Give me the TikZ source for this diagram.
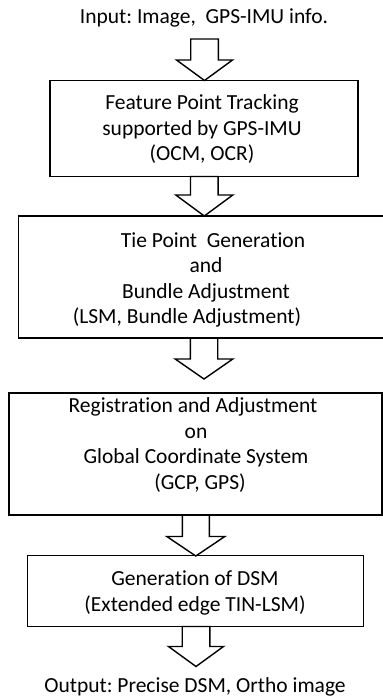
\documentclass[tikz,border=0pt]{standalone}
\usepackage{fontspec}
\setmainfont[Ligatures=NoCommon]{Carlito}
\frenchspacing
\begin{document}
\begin{tikzpicture}[x=1pt,y=-1pt,
  every node/.style={font=\fontsize{21.5}{25.5}\selectfont, text=black},
  box/.style={draw=black, line width=1.6pt, inner sep=0pt, fill=none},
  lines/.style={align=center, inner sep=0pt},
  arrowline/.style={draw=black, line width=1.4pt, fill=white, line join=miter}]
\clip (0,0) rectangle (383,697);
\fill[white] (0,0) rectangle (383,697);

% block arrow: centre x, top y, neck y, tip y, shaft half width, head half width
\newcommand\blockarrow[6]{%
  \draw[arrowline] (#1-#5,#2) -- (#1-#5,#3) -- (#1-#6,#3) -- (#1,#4)
    -- (#1+#6,#3) -- (#1+#5,#3) -- (#1+#5,#2) -- cycle;}

% input / output labels
\node (in)  at (204,18)  {Input: Image,\ \ GPS-IMU info.};
\node (out) at (195,687) {Output: Precise DSM, Ortho image};

% arrows (drawn first so the box outlines stay on top)
\blockarrow{204.5}{39}{60}{80.5}{13.8}{28}
\blockarrow{204.3}{176.5}{195}{216}{13.8}{28.5}
\blockarrow{204}{338}{359}{379}{13.7}{28.8}
\blockarrow{195.8}{515}{536.5}{556}{13.5}{29}
\blockarrow{196}{626.5}{646.5}{666.5}{13.8}{27.5}

% process boxes
\node[box, minimum width=308pt, minimum height=96pt]   (b1) at (204,128.5) {};
\node[box, minimum width=381.5pt, minimum height=122pt] (b2) at (209.25,277) {};
\node[box, minimum width=373pt, minimum height=122pt]   (b3) at (195.5,454) {};
\node[box, minimum width=335.8pt, minimum height=71pt]  (b4) at (195.4,591) {};

% box texts
\node[lines] (t1) at (202,129.5) {Feature Point Tracking\\supported by GPS-IMU\\(OCM, OCR)};
\node[lines] (t2) at (206,280) {Tie Point\ \ Generation\hspace*{-14pt}\\and\\Bundle Adjustment\\(LSM, Bundle Adjustment)\hspace*{38pt}};
\node[lines] (t3) at (196,445) {Registration and Adjustment\hspace*{6pt}\\on\\Global Coordinate System\hspace*{38pt}\\(GCP, GPS)\hspace*{-8pt}};
\node[lines] (t4) at (195,593) {Generation of DSM\\(Extended edge TIN-LSM)};
\end{tikzpicture}
\end{document}
